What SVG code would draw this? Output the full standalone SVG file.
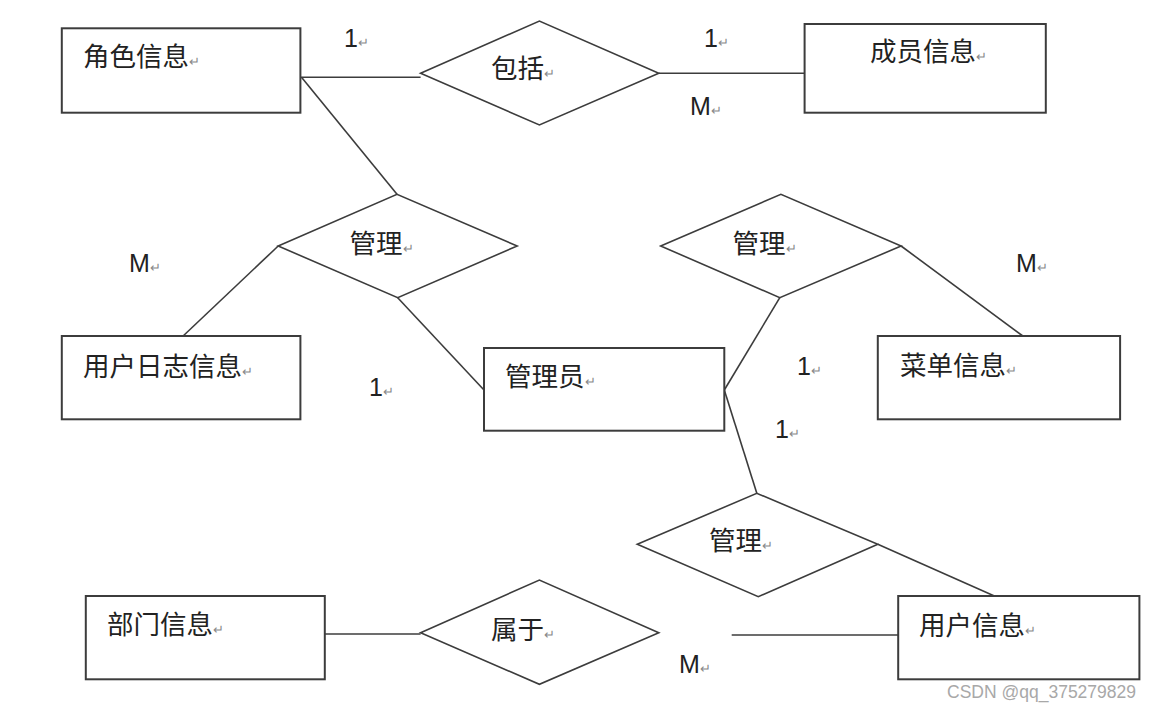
<svg xmlns="http://www.w3.org/2000/svg" width="1154" height="710" viewBox="0 0 1154 710">
<style>
.ent{fill:#fff;stroke:#3c3c3c;stroke-width:2}
.rel{fill:#fff;stroke:#3c3c3c;stroke-width:1.6}
.ln{stroke:#3c3c3c;stroke-width:1.6;fill:none}
.t{font-family:"Noto Sans CJK SC","Liberation Sans",sans-serif;font-size:26.5px;fill:#222}
.c{font-family:"Liberation Sans","Noto Sans",sans-serif;font-size:25px;fill:#222}
.r{font-size:13px;fill:#888}
.wm{font-family:"Liberation Sans",Arial,sans-serif;font-size:17.5px;fill:#a8a8a8}
</style>
<rect width="1154" height="710" fill="#fff"/>
<g id="connectors">
<line class="ln" x1="300.5" y1="77.3" x2="420.6" y2="77.3"/>
<line class="ln" x1="658.8" y1="73.3" x2="804.6" y2="73.3"/>
<line class="ln" x1="301.5" y1="77.3" x2="397" y2="194.3"/>
<line class="ln" x1="278.2" y1="246" x2="183.1" y2="336"/>
<line class="ln" x1="397.7" y1="297.7" x2="484" y2="390"/>
<line class="ln" x1="901.1" y1="246" x2="1022.8" y2="336"/>
<line class="ln" x1="724.3" y1="390" x2="779.8" y2="297.7"/>
<line class="ln" x1="724.3" y1="390" x2="756.8" y2="493.3"/>
<line class="ln" x1="877.8" y1="544.3" x2="994.4" y2="596"/>
<line class="ln" x1="324.8" y1="634" x2="420.6" y2="634"/>
<line class="ln" x1="731.7" y1="635" x2="898.2" y2="635"/>
</g>
<g id="n-role"><rect class="ent" x="61.8" y="28.3" width="238.6" height="84.4"/><text class="t" x="83" y="66">角色信息<tspan class="r">↵</tspan></text></g>
<g id="n-member"><rect class="ent" x="804.6" y="24" width="241.2" height="88.7"/><text class="t" x="870" y="61">成员信息<tspan class="r">↵</tspan></text></g>
<g id="n-log"><rect class="ent" x="61.8" y="336" width="238.6" height="83.3"/><text class="t" x="83" y="376">用户日志信息<tspan class="r">↵</tspan></text></g>
<g id="n-admin"><rect class="ent" x="484" y="348" width="240.3" height="82.7"/><text class="t" x="505" y="386">管理员<tspan class="r">↵</tspan></text></g>
<g id="n-menu"><rect class="ent" x="877.8" y="336" width="242.3" height="83.3"/><text class="t" x="900" y="375">菜单信息<tspan class="r">↵</tspan></text></g>
<g id="n-dept"><rect class="ent" x="85.8" y="596" width="239" height="83.3"/><text class="t" x="107" y="634">部门信息<tspan class="r">↵</tspan></text></g>
<g id="n-user"><rect class="ent" x="898.2" y="596" width="241.2" height="83.3"/><text class="t" x="919" y="635">用户信息<tspan class="r">↵</tspan></text></g>
<g id="r-include"><polygon class="rel" points="420.6,73.3 539.4,21 658.8,73.3 539.4,125"/><text class="t" x="491" y="78">包括<tspan class="r">↵</tspan></text></g>
<g id="r-manage1"><polygon class="rel" points="278.2,246 397,194.3 517.2,246 397.7,297.7"/><text class="t" x="349.5" y="253">管理<tspan class="r">↵</tspan></text></g>
<g id="r-manage2"><polygon class="rel" points="660.7,246 780.9,194.3 901.1,246 779.8,297.7"/><text class="t" x="732.5" y="253">管理<tspan class="r">↵</tspan></text></g>
<g id="r-manage3"><polygon class="rel" points="637.3,544.3 756.8,493.3 877.8,544.3 758.3,596.7"/><text class="t" x="709" y="550">管理<tspan class="r">↵</tspan></text></g>
<g id="r-belong"><polygon class="rel" points="420.6,632.7 539.4,580 658.8,632.7 539.4,684.3"/><text class="t" x="491" y="639">属于<tspan class="r">↵</tspan></text></g>
<g id="labels">
<text class="c" x="344" y="47">1<tspan class="r">↵</tspan></text>
<text class="c" x="704" y="47">1<tspan class="r">↵</tspan></text>
<text class="c" x="690" y="115">M<tspan class="r">↵</tspan></text>
<text class="c" x="129" y="272">M<tspan class="r">↵</tspan></text>
<text class="c" x="1016" y="272">M<tspan class="r">↵</tspan></text>
<text class="c" x="369" y="396">1<tspan class="r">↵</tspan></text>
<text class="c" x="797" y="375">1<tspan class="r">↵</tspan></text>
<text class="c" x="775" y="438">1<tspan class="r">↵</tspan></text>
<text class="c" x="679" y="673">M<tspan class="r">↵</tspan></text>
</g>
<text class="wm" x="947" y="697.5">CSDN @qq_375279829</text>
</svg>
